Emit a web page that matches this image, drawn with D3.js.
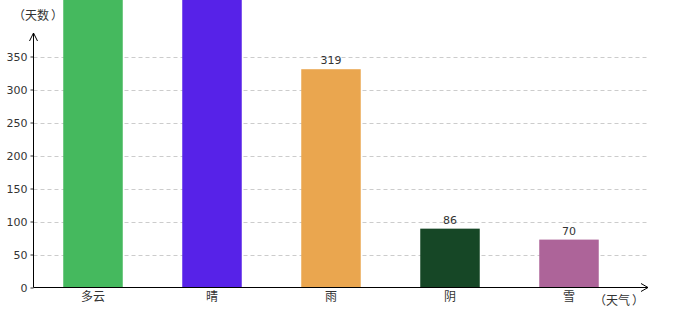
<!DOCTYPE html>
<html>
<head>
<meta charset="utf-8">
<script src="https://cdn.jsdelivr.net/npm/d3@7"></script>
<style>
  body { margin: 0; background: #fff; }
  svg text { font-family: "DejaVu Sans", sans-serif; }
  .cn { font-family: "Noto Sans CJK SC", sans-serif; }
</style>
</head>
<body>
<div id="chart"></div>
<script>
// weather categories and day counts
const categories = ['多云', '晴', '雨', '阴', '雪'];
const days = [480, 470, 319, 86, 70];
const colors = ['#45b95e', '#5722e8', '#eaa64f', '#164726', '#ad6499'];
const yTicks = [0, 50, 100, 150, 200, 250, 300, 350];
const yTitle = '天数';
const xTitle = '天气';

const width = 680, height = 320;
const x0 = 33.5, yBase = 287.5;

const svg = d3.select('#chart').append('svg')
  .attr('width', width)
  .attr('height', height);

const x = d3.scaleBand()
  .domain(categories)
  .range([x0, x0 + 595])
  .paddingInner(0.5)
  .paddingOuter(0.25);

// axis scale and bar scale differ slightly (bars drawn a bit taller, as in the original)
const yAxisScale = d3.scaleLinear().domain([0, 350]).range([yBase, yBase - 231]);
const yBar = d3.scaleLinear().domain([0, 350]).range([yBase, yBase - 239.5]);

// grid lines
svg.append('g')
  .selectAll('line')
  .data(yTicks.filter(d => d > 0))
  .join('line')
  .attr('x1', x0)
  .attr('x2', 648)
  .attr('y1', d => Math.round(yAxisScale(d)) + 0.5)
  .attr('y2', d => Math.round(yAxisScale(d)) + 0.5)
  .attr('stroke', '#cccccc')
  .attr('stroke-dasharray', '4,3');

// bars
svg.append('g')
  .selectAll('rect')
  .data(categories)
  .join('rect')
  .attr('x', d => x(d))
  .attr('width', x.bandwidth())
  .attr('y', (d, i) => yBar(days[i]))
  .attr('height', (d, i) => yBase - yBar(days[i]))
  .attr('fill', (d, i) => colors[i]);

// value labels (the tall bars run past the top of the view, so their labels are not shown)
svg.append('g')
  .selectAll('text')
  .data(categories.filter((d, i) => yBar(days[i]) > 20))
  .join('text')
  .attr('x', d => x(d) + x.bandwidth() / 2)
  .attr('y', d => yBar(days[categories.indexOf(d)]) - 5)
  .attr('text-anchor', 'middle')
  .attr('font-size', 11)
  .attr('fill', '#333')
  .text(d => days[categories.indexOf(d)]);

// y axis
const yAxis = d3.axisLeft(yAxisScale).tickValues(yTicks).tickSize(3).tickPadding(3);
const gy = svg.append('g')
  .attr('transform', `translate(${x0},0)`)
  .call(yAxis);
gy.select('.domain').remove();
gy.selectAll('text').attr('font-size', 11).attr('fill', '#333').attr('font-family', 'DejaVu Sans');
gy.selectAll('line').attr('stroke', '#333');

svg.append('line')
  .attr('x1', x0).attr('x2', x0)
  .attr('y1', yBase).attr('y2', 33)
  .attr('stroke', '#000');
svg.append('path')
  .attr('d', `M${x0 - 4},41 L${x0},33 L${x0 + 4},41`)
  .attr('fill', 'none')
  .attr('stroke', '#000');

// x axis
svg.append('line')
  .attr('x1', x0).attr('x2', 648)
  .attr('y1', yBase).attr('y2', yBase)
  .attr('stroke', '#000');
svg.append('path')
  .attr('d', `M641,${yBase - 4} L648,${yBase} L641,${yBase + 4}`)
  .attr('fill', 'none')
  .attr('stroke', '#000');

svg.append('g')
  .selectAll('text')
  .data(categories)
  .join('text')
  .attr('class', 'cn')
  .attr('x', d => x(d) + x.bandwidth() / 2)
  .attr('y', 301)
  .attr('text-anchor', 'middle')
  .attr('font-size', 12)
  .attr('fill', '#333')
  .text(d => d);

// axis titles: brackets placed on their own so the gaps look like the original
function axisTitle(label, xStart, y) {
  const g = svg.append('g').attr('class', 'cn').attr('font-size', 12).attr('fill', '#333');
  const open = g.append('text').attr('class', 'cn').attr('y', y).text('（');
  const w = open.node().getComputedTextLength();
  open.attr('x', xStart - w);
  const mid = g.append('text').attr('class', 'cn').attr('x', xStart).attr('y', y).text(label);
  const mw = mid.node().getComputedTextLength();
  g.append('text').attr('class', 'cn').attr('x', xStart + mw + 2).attr('y', y).text('）');
}
axisTitle(yTitle, 25, 20);
axisTitle(xTitle, 606, 305);
</script>
</body>
</html>
